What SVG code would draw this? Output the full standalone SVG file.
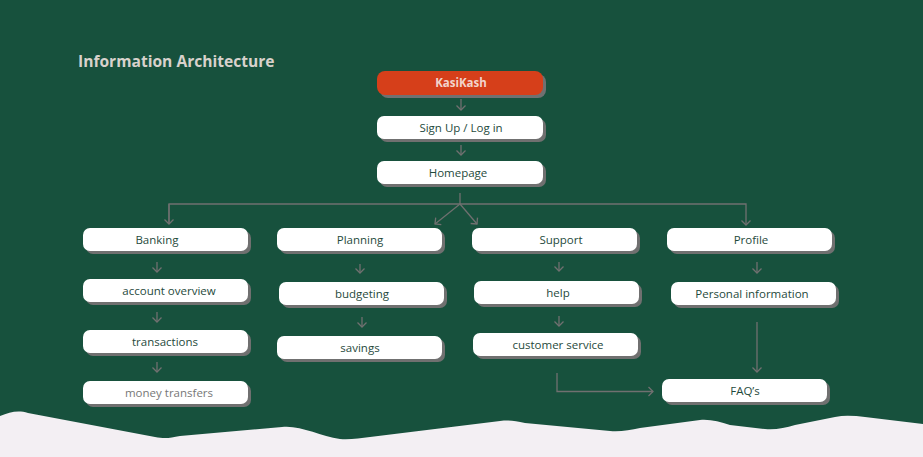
<svg xmlns="http://www.w3.org/2000/svg" width="923" height="457" viewBox="0 0 923 457">
<defs>
<style>
.box{fill:#ffffff}
.sh{fill:#707070}
.lbl{font-family:"Open Sans","Noto Sans",sans-serif;font-size:11.5px;fill:#1f4a3c;text-anchor:middle;font-weight:500}
.title{font-family:"Open Sans","Noto Sans",sans-serif;font-size:15.6px;font-weight:700;fill:#d8d2cc}
.con{fill:none;stroke:#707070;stroke-width:1.3}
</style>
<marker id="ah" markerUnits="userSpaceOnUse" markerWidth="12" markerHeight="12" refX="6" refY="6" orient="auto">
<path d="M1.5,1.5 L6,6 L1.5,10.5" fill="none" stroke="#707070" stroke-width="1.3"/>
</marker>
</defs>
<rect x="0" y="0" width="923" height="457" fill="#17513d"/>
<path d="M0,416 C10,412 18,410 28,413 L155,437 C165,439 170,438 180,436 L282,427 C300,425 320,436 340,439 C350,440 360,438 370,437 L500,421 C510,420 515,421 525,423 L610,431 C620,432 630,430 640,428 L700,420 C710,419 720,422 730,425 L765,429 C775,430 785,428 795,425 L835,417 C845,415 855,416 865,417 L923,424 L923,457 L0,457 Z" fill="#f3eff3"/>
<text class="title" x="78" y="66.5">Information Architecture</text>
<g id="connectors">
<path class="con" d="M461,99 V110" marker-end="url(#ah)"/>
<path class="con" d="M461,145 V155" marker-end="url(#ah)"/>
<path class="con" d="M460,193 V204"/>
<path class="con" d="M169,224 V204 H746 V225" marker-end="url(#ah)"/>
<path class="con" d="M169,204 V224" marker-end="url(#ah)"/>
<path class="con" d="M460,204 L435,224" marker-end="url(#ah)"/>
<path class="con" d="M460,204 L477,224" marker-end="url(#ah)"/>
<path class="con" d="M157,262 V272" marker-end="url(#ah)"/>
<path class="con" d="M157,312 V322" marker-end="url(#ah)"/>
<path class="con" d="M157,362 V372" marker-end="url(#ah)"/>
<path class="con" d="M360,264 V273" marker-end="url(#ah)"/>
<path class="con" d="M362,317 V327" marker-end="url(#ah)"/>
<path class="con" d="M559,262 V271" marker-end="url(#ah)"/>
<path class="con" d="M559,316 V326" marker-end="url(#ah)"/>
<path class="con" d="M757,262 V273" marker-end="url(#ah)"/>
<path class="con" d="M757,322 V372" marker-end="url(#ah)"/>
<path class="con" d="M557,373 V391.5 H653" marker-end="url(#ah)"/>
</g>
<g id="kasikash">
<rect class="sh" x="380" y="74" width="166" height="24" rx="8"/>
<rect x="377" y="71" width="166" height="24" rx="8" fill="#d63f1a"/>
<text class="lbl" x="461" y="87" style="fill:#f2d4cc;font-weight:700">KasiKash</text>
</g>
<g id="signup">
<rect class="sh" x="380" y="119" width="166" height="23" rx="7"/>
<rect class="box" x="377" y="116" width="166" height="23" rx="7"/>
<text class="lbl" x="461" y="132">Sign Up / Log in</text>
</g>
<g id="homepage">
<rect class="sh" x="380" y="164" width="166" height="23" rx="7"/>
<rect class="box" x="377" y="161" width="166" height="23" rx="7"/>
<text class="lbl" x="458" y="177">Homepage</text>
</g>
<g id="banking">
<rect class="sh" x="86" y="231" width="165" height="23" rx="7"/>
<rect class="box" x="83" y="228" width="165" height="23" rx="7"/>
<text class="lbl" x="157" y="244">Banking</text>
</g>
<g id="account-overview">
<rect class="sh" x="86" y="282" width="165" height="23" rx="7"/>
<rect class="box" x="83" y="279" width="165" height="23" rx="7"/>
<text class="lbl" x="169" y="295">account overview</text>
</g>
<g id="transactions">
<rect class="sh" x="86" y="333" width="165" height="23" rx="7"/>
<rect class="box" x="83" y="330" width="165" height="23" rx="7"/>
<text class="lbl" x="165" y="346">transactions</text>
</g>
<g id="money-transfers">
<rect class="sh" x="86" y="384" width="165" height="23" rx="7"/>
<rect class="box" x="83" y="381" width="165" height="23" rx="7"/>
<text class="lbl" x="169" y="397" style="fill:#777777">money transfers</text>
</g>
<g id="planning">
<rect class="sh" x="280" y="231" width="165" height="23" rx="7"/>
<rect class="box" x="277" y="228" width="165" height="23" rx="7"/>
<text class="lbl" x="360" y="244">Planning</text>
</g>
<g id="budgeting">
<rect class="sh" x="282" y="285" width="165" height="23" rx="7"/>
<rect class="box" x="279" y="282" width="165" height="23" rx="7"/>
<text class="lbl" x="362" y="298">budgeting</text>
</g>
<g id="savings">
<rect class="sh" x="280" y="339" width="165" height="23" rx="7"/>
<rect class="box" x="277" y="336" width="165" height="23" rx="7"/>
<text class="lbl" x="360" y="352">savings</text>
</g>
<g id="support">
<rect class="sh" x="475" y="231" width="165" height="23" rx="7"/>
<rect class="box" x="472" y="228" width="165" height="23" rx="7"/>
<text class="lbl" x="561" y="244">Support</text>
</g>
<g id="help">
<rect class="sh" x="477" y="284" width="165" height="23" rx="7"/>
<rect class="box" x="474" y="281" width="165" height="23" rx="7"/>
<text class="lbl" x="558" y="297">help</text>
</g>
<g id="customer-service">
<rect class="sh" x="476" y="336" width="165" height="23" rx="7"/>
<rect class="box" x="473" y="333" width="165" height="23" rx="7"/>
<text class="lbl" x="558" y="349">customer service</text>
</g>
<g id="profile">
<rect class="sh" x="670" y="231" width="165" height="23" rx="7"/>
<rect class="box" x="667" y="228" width="165" height="23" rx="7"/>
<text class="lbl" x="751" y="244">Profile</text>
</g>
<g id="personal-information">
<rect class="sh" x="674" y="285" width="165" height="23" rx="7"/>
<rect class="box" x="671" y="282" width="165" height="23" rx="7"/>
<text class="lbl" x="752" y="298">Personal information</text>
</g>
<g id="faqs">
<rect class="sh" x="665" y="382" width="165" height="23" rx="7"/>
<rect class="box" x="662" y="379" width="165" height="23" rx="7"/>
<text class="lbl" x="745" y="395">FAQ’s</text>
</g>
</svg>
